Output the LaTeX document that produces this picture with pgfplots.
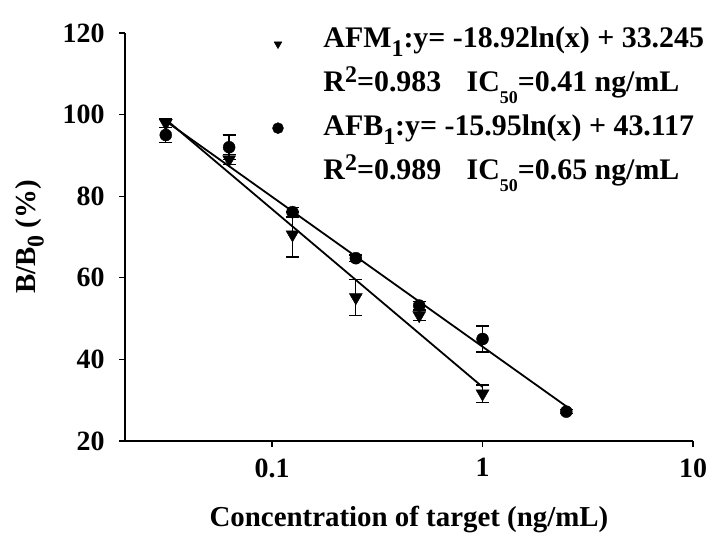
\documentclass[border=0pt]{standalone}
\usepackage{fontspec}
\setmainfont{Liberation Serif}
\usepackage{pgfplots}
\usepackage{pgfplotstable}
\pgfplotsset{compat=1.18}
\newcommand\bsub[1]{\raisebox{-0.28em}{\fontsize{24}{24}\selectfont #1}}
\newcommand\bsup[1]{\raisebox{0.32em}{\fontsize{24}{24}\selectfont #1}}
\newcommand\ssub[1]{\raisebox{-0.38em}{\fontsize{18}{18}\selectfont #1}}
\pgfplotstableread{
x        y     e
0.03125  97.9  1.0
0.0625   89.0  1.2
0.125    70.6  5.5
0.25     55.2  4.4
0.5      50.8  1.2
1        31.6  2.1
}\afm
\pgfplotstableread{
x        y     e
0.03125  95.0  1.8
0.0625   92.0  3.0
0.125    76.1  1.2
0.25     64.8  0.8
0.5      53.2  1.0
1        45.0  3.2
2.5      27.2  0.5
}\afb
\begin{document}
\begin{tikzpicture}
\begin{axis}[
  scale only axis, width=568bp, height=408bp,
  xmode=log, log basis x=10, xmin=0.02, xmax=10,
  ymin=20, ymax=120, ytick={20,40,...,120},
  xtick={0.1,1,10}, xticklabels={0.1,1,10},
  minor xtick={}, xminorticks=false,
  axis lines*=left, tick align=outside,
  axis line style={line width=1.6bp},
  major tick length=6bp,
  tick style={black, line width=1.3bp},
  /pgf/number format/assume math mode=true,
  tick label style={font=\fontsize{28}{28}\selectfont\bfseries},
  yticklabel style={xshift=-11bp},
  xticklabel style={yshift=-8bp},
  label style={font=\fontsize{29}{29}\selectfont\bfseries},
  xlabel={Concentration of target (ng/mL)},
  xlabel style={at={(axis description cs:0.5,0)}, anchor=base, yshift=-85bp},
  ylabel={B/B\bsub{0} (\%)},
  ylabel style={at={(axis description cs:-0.168,0.5)}, anchor=center},
  legend cell align=left,
  legend style={draw=none, fill=none, inner sep=0pt, outer sep=0pt,
    at={(axis description cs:0.2544,1.018)}, anchor=north west,
    row sep=15bp, column sep=40bp,
    nodes={inner sep=0pt, text height=22bp, text depth=7bp,
      font=\fontsize{30}{30}\selectfont\bfseries}},
]
\addplot[black, line width=1.8bp, forget plot] coordinates {(0.03125,98.82) (1,33.245)};
\addplot[black, line width=1.8bp, forget plot] coordinates {(0.03125,98.40) (2.5,28.50)};
\addplot[only marks, black, mark=triangle*, mark size=7.5bp,
  mark options={rotate=180, fill=black},
  legend image post style={mark size=4.5bp, yshift=-4bp},
  error bars/.cd, y dir=both, y explicit,
  error bar style={line width=1.3bp, black},
  error mark options={rotate=90, mark size=6.5bp, line width=1.3bp, black}]
  table[x=x, y=y, y error=e] {\afm};
\addlegendentry{AFM\bsub{1}:y= -18.92ln(x) + 33.245}
\addlegendimage{empty legend}
\addlegendentry{R\bsup{2}=0.983\hspace{0.85em}IC\ssub{50}=0.41 ng/mL}
\addplot[only marks, black, mark=*, mark size=6bp,
  mark options={fill=black},
  legend image post style={mark size=5.5bp},
  error bars/.cd, y dir=both, y explicit,
  error bar style={line width=1.3bp, black},
  error mark options={rotate=90, mark size=6.5bp, line width=1.3bp, black}]
  table[x=x, y=y, y error=e] {\afb};
\addlegendentry{AFB\bsub{1}:y= -15.95ln(x) + 43.117}
\addlegendimage{empty legend}
\addlegendentry{R\bsup{2}=0.989\hspace{0.85em}IC\ssub{50}=0.65 ng/mL}
\end{axis}
\pgfresetboundingbox
\path[use as bounding box] (-125bp,-100bp) rectangle (585bp,441bp);
\end{tikzpicture}
\end{document}
